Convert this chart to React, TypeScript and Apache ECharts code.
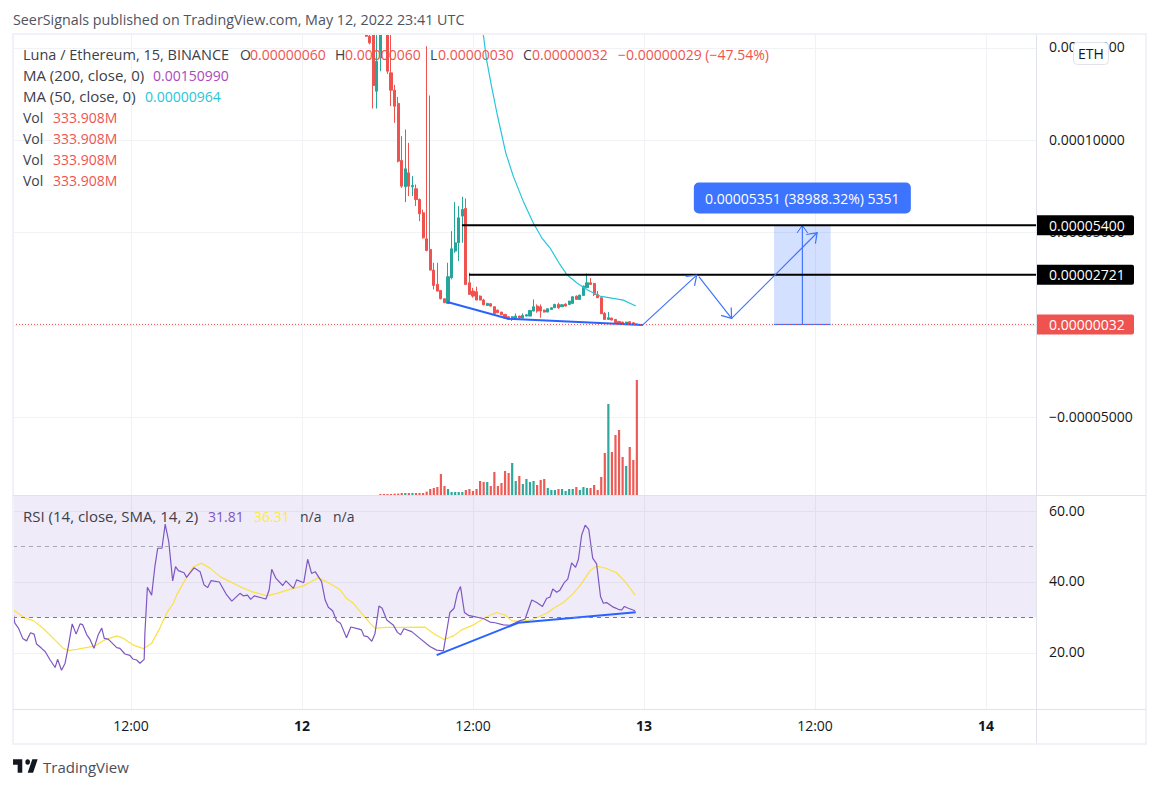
import React, { useEffect, useRef } from "react";
import * as echarts from "echarts";

const FONT = '"Open Sans", sans-serif';
const RED = "#ef5350";
const GREEN = "#26a69a";
const BLUE = "#2962ff";

// Prices are in units of 0.00000001 ETH; bars are 15-minute bars counted from May 13 00:00.
const timeTickBars = [-144, -96, -48, 0, 48, 96];
const timeTickLabels = ["12:00", "12", "12:00", "13", "12:00", "14"];
const priceTicks = [-5000, 0, 5000, 10000, 15000];
const rsiTicks = [20, 40, 60];

const firstCandleBar = -78;
const opens = [15700,15637,15700,12660,14464,17000,15700,13653,12715,11993,8908,7483,8241,7483,7375,6797,6076,4669,4092,2973,2197,1873,1422,1169,2558,4001,4452,5896,6310,2287,1836,1800,1566,1349,1061,1151,989,808,700,574,447,303,339,483,375,483,483,754,1025,989,808,700,844,934,1115,989,1133,1115,1169,1566,1385,1602,2017,2287,2251,1656,1476,628,303,375,303,195,159,87,177,123,60];
const closes = [15637,15277,12967,14284,15700,16600,13743,12715,11849,8872,7519,8457,7519,7555,6797,6022,4723,4037,2973,2143,1836,1422,1205,2612,4128,4452,5805,6256,2197,1656,1566,1349,1349,1097,1169,1025,628,664,556,375,303,447,483,375,519,556,790,989,754,754,700,880,934,1115,934,1097,1025,1295,1530,1385,1620,2107,2287,2197,1656,1476,610,303,394,267,123,87,87,159,69,51,32];
const lows = [15600,15200,11723,11723,13743,16400,13600,11849,10947,8800,7429,6653,6978,6978,6437,5625,4670,3990,2960,1927,1836,1390,1190,1169,2470,3911,3460,4452,2197,1656,1480,1349,1340,1060,1040,1000,620,650,540,360,290,220,300,350,360,470,470,740,664,394,680,690,830,920,880,980,1010,1100,1160,1370,1370,1590,2000,2180,1570,1460,600,290,290,260,110,80,80,80,60,40,30];
const highs = [15700,15700,15700,15700,15700,17200,15700,15700,13000,12350,10225,10586,9864,8060,7609,6850,6250,15096,12426,3370,3370,1873,1422,3370,5084,6653,6437,6942,6852,2829,2010,2070,1600,1420,1200,1190,1000,830,710,590,470,480,628,500,628,570,800,1385,1115,1115,830,900,950,1150,1205,1120,1170,1310,1550,1600,1640,2130,2793,2540,2280,1840,1500,700,700,390,320,220,170,170,190,130,60];

const firstVolumeBar = -74;
const volumes = [3,3,3,3,4,4,5.8,5.8,5.8,5.8,5.8,5.8,5.8,9.7,17.4,20.3,23.2,61,26.1,17.4,8.7,8.7,8.7,8.7,14.5,17.4,11.6,17.4,40.7,37.8,37.8,26.1,66.8,26.1,34.8,69.7,63.9,92.9,40.7,55.2,31.9,46.5,37.8,40.7,29,43.6,46.5,20.3,14.5,14.5,17.4,17.4,11.6,17.4,17.4,23.2,14.5,23.2,20.3,20.3,29,14.5,52.3,122,264.3,124.9,174.2,188.8,110.4,84.2,139.4,101.6,333.9];
const volumeSides = "rrrrrr" + "rgrgrrrrrrrrrgggggrrrrrrgrrrrrrggrggggrrrgggrggggrgggrrrrrgrrrrgrrr";

const ma50Bars = [-46,-45.1,-44.2,-42.8,-41.2,-38.8,-36.7,-33.9,-31.1,-28.7,-26.4,-23.6,-21.7,-18.9,-16.1,-12.4,-8.6,-5.8,-2.3];
const ma50Values = [16359,15727,14374,12930,11398,9323,8060,6707,5535,4723,4182,3279,2738,2287,1927,1566,1440,1349,1025];

const rsiBars = [-177,-176.6,-175.6,-174.4,-173.3,-172.2,-171.2,-170.5,-169.1,-168.1,-166.7,-165.3,-164.6,-163.5,-162.5,-161.6,-160.5,-159.4,-158.3,-157.6,-156.4,-155.5,-154.4,-153.2,-152.2,-151.5,-150.4,-148,-147.1,-145.7,-144.3,-143.5,-142.4,-141.5,-140.3,-140.1,-139.4,-138.2,-137.3,-136.5,-135.3,-134.4,-133.4,-132.3,-131.5,-130.7,-129.1,-128.4,-126.3,-124.6,-123.5,-122.5,-121.5,-119.2,-117.3,-115.7,-113.4,-112.5,-111.3,-110.4,-109.4,-106.9,-106.1,-105.2,-104.5,-103.3,-101.4,-100.5,-98.4,-97.5,-95.5,-94.4,-93.3,-92.3,-90.5,-89.5,-88.6,-87.4,-86.3,-85.2,-83.5,-82.3,-80.2,-79.3,-78.6,-77.6,-76.4,-75.5,-74.4,-73.5,-72.2,-70.4,-69.2,-68.3,-67.4,-65.2,-62.9,-60.1,-58.2,-56.3,-54.5,-53.3,-52.4,-51.5,-50.4,-49.3,-47,-45.1,-43.2,-41.8,-39.5,-37.6,-36.2,-34.8,-33.4,-31.5,-30.1,-28.5,-27.3,-26.4,-25.6,-24.5,-23.6,-22.4,-21.4,-20.3,-19.2,-18.4,-17.5,-16.5,-15.5,-14.4,-13.3,-12.2,-11.4,-10.5,-8.6,-7.2,-6.3,-5.5,-4.4,-2.5];
const rsiValues = [30.7,28.4,27,24.1,23.4,25.7,25.3,22.5,21.3,20.4,18,15.9,18.2,15.1,17.1,21.8,28.2,25.3,28.2,28,25.1,23.8,21.3,25.1,27,24.1,23.9,21.5,21.3,19.7,19.3,18.3,18,17.1,18.2,25.5,38.5,36.3,44.3,49.5,49.5,56.3,51.4,40.3,44.3,43.2,42.6,41.3,44,42.9,39.2,38.4,40.4,40,36.6,34.6,36.8,36.1,36.3,35.1,36.1,35.4,35.2,37.8,43.6,41,39,40.3,38.2,40.6,39.8,46.4,42.4,42.9,40.1,34.9,32.9,31.9,29.1,28.4,24.3,27.3,26.8,26.5,24.8,24.6,23.3,25.5,33.2,32.6,29.3,27.9,25.8,25.1,26.8,26,24.1,21.8,20.8,20.6,31.4,32.6,36.8,38.7,31.4,30.6,30.1,29.7,28.7,28.5,27.9,27.8,28.4,29.1,29.5,34.9,34.2,33.1,35.4,35.7,38,37.1,37.7,39.8,40.8,45.4,44.1,46.4,53.2,56,54.8,46.7,45.1,35.9,34,34.2,32.9,32.3,32.1,33.1,32.6,31.9];

const rsiMaBars = [-177,-173.7,-171.4,-168.6,-165.8,-163,-161.6,-159.2,-154.1,-151.3,-148,-146.1,-143.3,-140.5,-138.2,-135.9,-134,-132.1,-131.2,-128.8,-126.5,-124.2,-121.8,-119,-116.2,-113.4,-110.1,-105.9,-103.1,-98.4,-95.6,-91.4,-88.2,-85.3,-83.5,-81.6,-79.3,-76.9,-75.5,-72.2,-67.6,-61.5,-59.1,-56.1,-53.5,-51.2,-47.9,-44.2,-41.4,-39,-37.1,-34.8,-31.1,-27.3,-25.4,-22.6,-19.8,-17.5,-15.1,-13.3,-10.5,-7.7,-4.9,-2.5];
const rsiMaValues = [32.1,29.8,29.1,26.9,24.1,21.3,20.7,21,22,23.7,24.8,24.1,22.2,21.2,22.7,27,31.2,34,36.3,40.6,44.3,45.3,43.9,41.5,40.1,38.7,37.3,36.1,36.8,38.2,38.9,41.2,39.6,37.8,35.4,34,31.2,28.4,27,27.2,27.2,27.3,25.5,23.8,24.8,26.5,27.9,30.2,31.4,30.7,29.1,28.8,29.5,31.2,32.6,34.2,36.8,39.6,43.2,44.5,43.8,42.6,39.6,36.3];

const priceTrendBars = [-55.2, -38.1, -0.3];
const priceTrendValues = [1241, 340, 0];
const rsiTrendBars = [-58.2, -35.3, -2.3];
const rsiTrendValues = [19.4, 28.5, 31.5];

const arrowSegments = [
  [-0.2, 32, 14.8, 2700],
  [15.4, 2613, 24.6, 357],
  [24.6, 357, 48.6, 4993],
];
const levelStartBars = [-177.12, -51.1, -49.1];
const levelPrices = [32, 5400, 2721];
const levelTexts = ["0.00000032", "0.00005400", "0.00002721"];
const rangeBars = [36.5, 52.4];
const rangePrices = [32, 5383];
const rangeText = "0.00005351 (38988.32%) 5351";

const GRID_LEFT = 13;
const GRID_WIDTH = 1023;
const xMin = -177.12;
const xMax = 110.04;
const priceMax = 15703;
const priceMin = -9205;
const volumeMax = 1335.6;
const rsiMax = 64.23;
const rsiMin = 4.2;

const fmtPrice = (v: number) => {
  const s = (Math.abs(v) / 1e8).toFixed(8);
  return v < 0 ? "\u2212" + s : s;
};

const gridLine = { show: true, lineStyle: { color: "#f1f2f6", width: 1 } };

function arrowHead(tip: number[], from: number[], size: number) {
  const a = Math.atan2(tip[1] - from[1], tip[0] - from[0]);
  const s = Math.PI / 5;
  return [
    [tip[0] - size * Math.cos(a - s), tip[1] - size * Math.sin(a - s)],
    tip,
    [tip[0] - size * Math.cos(a + s), tip[1] - size * Math.sin(a + s)],
  ];
}

function renderArrow(_: any, api: any) {
  const p0 = api.coord([api.value(0), api.value(1)]);
  const p1 = api.coord([api.value(2), api.value(3)]);
  const stroke = { stroke: "#3d74ff", lineWidth: 1.2, fill: "none" };
  return {
    type: "group",
    children: [
      { type: "line", shape: { x1: p0[0], y1: p0[1], x2: p1[0], y2: p1[1] }, style: stroke },
      { type: "polyline", shape: { points: arrowHead(p1, p0, 11) }, style: stroke },
    ],
  };
}

function renderLevel(params: any, api: any) {
  const i = params.dataIndex;
  const p = api.coord([api.value(0), api.value(1)]);
  const right = params.coordSys.x + params.coordSys.width;
  const isLast = i === 0;
  const color = isLast ? RED : "#000000";
  return {
    type: "group",
    children: [
      {
        type: "line",
        shape: { x1: p[0], y1: p[1], x2: right, y2: p[1] },
        style: { stroke: color, lineWidth: isLast ? 1 : 2, lineDash: isLast ? [1, 2] : null },
      },
      {
        type: "rect",
        shape: { x: right + 1, y: p[1] - 10, width: 97, height: 20, r: [0, 2, 2, 0] },
        style: { fill: color },
      },
      {
        type: "text",
        style: {
          text: levelTexts[i],
          x: right + 13,
          y: p[1],
          fill: "#ffffff",
          font: `14px ${FONT}`,
          textVerticalAlign: "middle",
        },
      },
    ],
  };
}

function renderRange(_: any, api: any) {
  const a = api.coord([api.value(0), api.value(2)]);
  const b = api.coord([api.value(1), api.value(3)]);
  const cx = (a[0] + b[0]) / 2;
  const top = [cx, b[1]];
  const bottom = [cx, a[1]];
  const line = { stroke: BLUE, lineWidth: 1, fill: "none" };
  return {
    type: "group",
    children: [
      {
        type: "rect",
        shape: { x: a[0], y: b[1], width: b[0] - a[0], height: a[1] - b[1] },
        style: { fill: "rgba(41,98,255,0.2)" },
      },
      { type: "line", shape: { x1: a[0], y1: a[1], x2: b[0], y2: a[1] }, style: line },
      { type: "line", shape: { x1: cx, y1: a[1], x2: cx, y2: b[1] }, style: line },
      { type: "polyline", shape: { points: arrowHead(top, bottom, 9) }, style: line },
      {
        type: "rect",
        shape: { x: cx - 108.5, y: b[1] - 43, width: 217, height: 31, r: 5 },
        style: { fill: "#3d74ff" },
      },
      {
        type: "text",
        style: {
          text: rangeText,
          x: cx,
          y: b[1] - 27.5,
          fill: "#ffffff",
          font: `14px ${FONT}`,
          textAlign: "center",
          textVerticalAlign: "middle",
        },
      },
    ],
  };
}

function pairs(xs: number[], ys: number[]) {
  return xs.map((x, i) => [x, ys[i]]);
}

function legendText(text: string, x: number, y: number, fill: string, size = 14) {
  return {
    type: "text",
    z: 20,
    silent: true,
    style: { text, x, y, fill, font: `${size}px ${FONT}`, textVerticalAlign: "middle" },
  };
}

function chromeRect(x: number, y: number, width: number, height: number, fill: string) {
  return { type: "rect", z: 19, silent: true, shape: { x, y, width, height }, style: { fill } };
}

function buildOption() {
  const TEXT = "#3c404b";
  const WORDS = 14.5;
  const candleData = opens.map((o, i) => [firstCandleBar + i, o, closes[i], lows[i], highs[i]]);
  const volumeData = volumes.map((v, i) => ({
    value: [firstVolumeBar + i, v],
    itemStyle: { color: volumeSides[i] === "g" ? "#2fa89b" : "#ee5a55" },
  }));

  const elements: any[] = [
    chromeRect(12, 33, 1135, 2, "#f0f2f7"),
    chromeRect(12, 33, 2, 712, "#f0f2f7"),
    chromeRect(1145, 33, 2, 712, "#f0f2f7"),
    chromeRect(12, 743, 1135, 2, "#f0f2f7"),
    chromeRect(1036, 35, 1, 708, "#e0e3eb"),
    chromeRect(13, 495, 1133, 1, "#e0e3eb"),
    chromeRect(13, 709, 1133, 1, "#e0e3eb"),
    legendText("SeerSignals published on TradingView.com, May 12, 2022 23:41 UTC", 13, 19, "#50535e", 14.3),
    legendText("Luna / Ethereum, 15, BINANCE", 23, 54, TEXT, WORDS),
    legendText("O", 240, 54, TEXT),
    legendText("0.00000060", 250, 54, RED),
    legendText("H", 335, 54, TEXT),
    legendText("0.00000060", 345, 54, RED),
    legendText("L", 430, 54, TEXT),
    legendText("0.00000030", 438, 54, RED),
    legendText("C", 523, 54, TEXT),
    legendText("0.00000032", 532, 54, RED),
    legendText("\u22120.00000029 (\u221247.54%)", 618, 54, RED),
    legendText("MA (200, close, 0)", 23, 75, TEXT, 15),
    legendText("0.00150990", 153, 75, "#ab47bc"),
    legendText("MA (50, close, 0)", 23, 96, TEXT, 15),
    legendText("0.00000964", 145, 96, "#26c6da"),
    legendText("Vol", 23, 117, TEXT),
    legendText("333.908M", 53, 117, RED),
    legendText("Vol", 23, 138, TEXT),
    legendText("333.908M", 53, 138, RED),
    legendText("Vol", 23, 159, TEXT),
    legendText("333.908M", 53, 159, RED),
    legendText("Vol", 23, 180, TEXT),
    legendText("333.908M", 53, 180, RED),
    legendText("RSI (14, close, SMA, 14, 2)", 23, 516, TEXT, 15),
    legendText("31.81", 208, 516, "#7e57c2"),
    legendText("36.31", 254, 516, "#ffeb3b"),
    legendText("n/a", 300, 516, TEXT),
    legendText("n/a", 333, 516, TEXT),
    {
      type: "rect",
      z: 20,
      silent: true,
      shape: { x: 1073.5, y: 42.5, width: 35, height: 22, r: 4 },
      style: { fill: "#ffffff", stroke: "#e0e3eb", lineWidth: 1 },
    },
    {
      type: "text",
      z: 21,
      silent: true,
      style: {
        text: "ETH",
        x: 1091,
        y: 53.5,
        fill: "#131722",
        font: `14px ${FONT}`,
        textAlign: "center",
        textVerticalAlign: "middle",
      },
    },
    {
      type: "tvlogo",
      z: 20,
      silent: true,
      x: 11.5,
      y: 754,
      scaleX: 0.77,
      scaleY: 0.89,
      style: { fill: "#131722" },
    },
    {
      type: "text",
      z: 20,
      silent: true,
      style: {
        text: "TradingView",
        x: 43,
        y: 767,
        fill: "#4a4e59",
        font: `15px ${FONT}`,
        textVerticalAlign: "middle",
      },
    },
  ];

  return {
    animation: false,
    backgroundColor: "#ffffff",
    textStyle: { fontFamily: FONT },
    grid: [
      { left: GRID_LEFT, top: 35, width: GRID_WIDTH, height: 460 },
      { left: GRID_LEFT, top: 496, width: GRID_WIDTH, height: 213 },
    ],
    xAxis: [
      {
        type: "value",
        gridIndex: 0,
        min: xMin,
        max: xMax,
        axisLine: { show: false },
        axisTick: { show: false, customValues: timeTickBars },
        axisLabel: { show: false, customValues: timeTickBars },
        splitLine: gridLine,
      },
      {
        type: "value",
        gridIndex: 1,
        min: xMin,
        max: xMax,
        axisLine: { show: false },
        axisTick: { show: false, customValues: timeTickBars },
        axisLabel: {
          customValues: timeTickBars,
          color: "#131722",
          fontSize: 14,
          fontFamily: FONT,
          margin: 9,
          hideOverlap: false,
          formatter: (v: number) => {
            const label = timeTickLabels[timeTickBars.indexOf(v)];
            return label.length < 3 ? `{b|${label}}` : label;
          },
          rich: { b: { fontWeight: "bold", fontSize: 14, fontFamily: FONT, color: "#131722" } },
        },
        splitLine: gridLine,
      },
    ],
    yAxis: [
      {
        type: "value",
        gridIndex: 0,
        position: "right",
        min: priceMin,
        max: priceMax,
        axisLine: { show: false },
        axisTick: { show: false, customValues: priceTicks },
        axisLabel: {
          customValues: priceTicks,
          color: "#131722",
          fontSize: 14,
          fontFamily: FONT,
          margin: 13,
          hideOverlap: false,
          verticalAlign: "bottom",
          lineHeight: 2,
          formatter: fmtPrice,
        },
        splitLine: gridLine,
      },
      { type: "value", gridIndex: 0, min: 0, max: volumeMax, show: false, splitLine: { show: false } },
      {
        type: "value",
        gridIndex: 1,
        position: "right",
        min: rsiMin,
        max: rsiMax,
        axisLine: { show: false },
        axisTick: { show: false, customValues: rsiTicks },
        axisLabel: {
          customValues: rsiTicks,
          color: "#131722",
          fontSize: 14,
          fontFamily: FONT,
          margin: 13,
          hideOverlap: false,
          verticalAlign: "bottom",
          lineHeight: 2,
          formatter: (v: number) => v.toFixed(2),
        },
        splitLine: gridLine,
      },
    ],
    graphic: { elements },
    series: [
      {
        type: "bar",
        name: "Vol",
        xAxisIndex: 0,
        yAxisIndex: 1,
        barWidth: 2.2,
        silent: true,
        z: 1,
        data: volumeData,
      },
      {
        type: "candlestick",
        name: "Luna / Ethereum",
        xAxisIndex: 0,
        yAxisIndex: 0,
        barWidth: 2.6,
        silent: true,
        z: 2,
        itemStyle: { color: GREEN, color0: RED, borderColor: GREEN, borderColor0: RED, borderWidth: 1 },
        data: candleData,
      },
      {
        type: "line",
        name: "MA 50",
        xAxisIndex: 0,
        yAxisIndex: 0,
        showSymbol: false,
        silent: true,
        z: 3,
        lineStyle: { color: "#26c6da", width: 1.2 },
        data: pairs(ma50Bars, ma50Values),
      },
      {
        type: "line",
        name: "Price trend",
        xAxisIndex: 0,
        yAxisIndex: 0,
        showSymbol: false,
        silent: true,
        z: 4,
        lineStyle: { color: BLUE, width: 2 },
        data: pairs(priceTrendBars, priceTrendValues),
      },
      {
        type: "custom",
        name: "Range",
        xAxisIndex: 0,
        yAxisIndex: 0,
        silent: true,
        z: 3,
        renderItem: renderRange,
        encode: { x: [0, 1], y: [2, 3] },
        data: [[rangeBars[0], rangeBars[1], rangePrices[0], rangePrices[1]]],
      },
      {
        type: "custom",
        name: "Levels",
        xAxisIndex: 0,
        yAxisIndex: 0,
        silent: true,
        z: 5,
        renderItem: renderLevel,
        encode: { x: 0, y: 1 },
        data: pairs(levelStartBars, levelPrices),
      },
      {
        type: "custom",
        name: "Arrows",
        xAxisIndex: 0,
        yAxisIndex: 0,
        silent: true,
        z: 6,
        renderItem: renderArrow,
        encode: { x: [0, 2], y: [1, 3] },
        data: arrowSegments,
      },
      {
        type: "line",
        name: "RSI",
        xAxisIndex: 1,
        yAxisIndex: 2,
        showSymbol: false,
        silent: true,
        z: 3,
        lineStyle: { color: "#7e57c2", width: 1.2 },
        data: pairs(rsiBars, rsiValues),
        markArea: {
          silent: true,
          itemStyle: { color: "rgba(126,87,194,0.12)" },
          data: [[{ yAxis: 30 }, { yAxis: rsiMax }]],
        },
        markLine: {
          silent: true,
          symbol: "none",
          label: { show: false },
          data: [
            { yAxis: 30, lineStyle: { color: "#787b86", type: [4, 4], width: 1 } },
            { yAxis: 50, lineStyle: { color: "#a8a8b4", type: [4, 4], width: 1 } },
          ],
        },
      },
      {
        type: "line",
        name: "RSI MA",
        xAxisIndex: 1,
        yAxisIndex: 2,
        showSymbol: false,
        silent: true,
        z: 2,
        lineStyle: { color: "#fbe144", width: 1.2 },
        data: pairs(rsiMaBars, rsiMaValues),
      },
      {
        type: "line",
        name: "RSI trend",
        xAxisIndex: 1,
        yAxisIndex: 2,
        showSymbol: false,
        silent: true,
        z: 4,
        lineStyle: { color: BLUE, width: 2 },
        data: pairs(rsiTrendBars, rsiTrendValues),
      },
    ],
  };
}

export default function App() {
  const ref = useRef<HTMLDivElement>(null);
  useEffect(() => {
    echarts.graphic.registerShape(
      "tvlogo",
      echarts.graphic.extendPath(
        "M14 6H2v6h6v9h6V6zm14 15h-7l6-15h7l-6 15zm-7-9a3 3 0 1 0 0-6 3 3 0 0 0 0 6z",
        {}
      ) as any
    );
    const chart = echarts.init(ref.current!, null, { renderer: "svg" });
    chart.setOption(buildOption() as any);
    return () => chart.dispose();
  }, []);
  return (
    <div
      ref={ref}
      style={{ position: "absolute", left: 0, top: 0, width: 1159, height: 788, background: "#fff" }}
    />
  );
}
